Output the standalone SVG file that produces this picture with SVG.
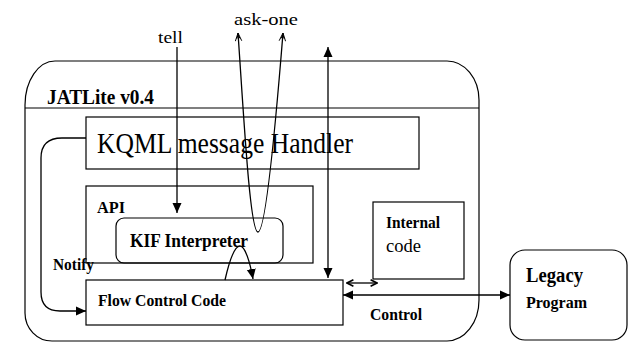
<svg xmlns="http://www.w3.org/2000/svg" width="629" height="343" viewBox="0 0 629 343" font-family="'Liberation Serif', 'Times New Roman', serif">
<style>
.box{fill:none;stroke:#000;stroke-width:1.2}
.ln{fill:none;stroke:#000;stroke-width:1.3}
.b{font-weight:bold}
</style>
<defs>
<marker id="ah" viewBox="0 0 10 10" refX="10" refY="5" markerWidth="10" markerHeight="10" markerUnits="userSpaceOnUse" orient="auto-start-reverse">
<path d="M0,0.5 L10,5 L0,9.5 Z" fill="#000"/>
</marker>
<marker id="oh" viewBox="0 0 10 10" refX="9" refY="5" markerWidth="8" markerHeight="8" markerUnits="userSpaceOnUse" orient="auto-start-reverse">
<path d="M1,1 L9,5 L1,9" fill="none" stroke="#000" stroke-width="2"/>
</marker>
<marker id="th" viewBox="0 0 10 10" refX="10" refY="5" markerWidth="11" markerHeight="8" markerUnits="userSpaceOnUse" orient="auto-start-reverse">
<path d="M0,1 L10,5 L0,9 M3,3 L8,5 L3,7" fill="none" stroke="#000" stroke-width="1.2"/>
</marker>
</defs>
<rect width="629" height="343" fill="#fff"/>

<g id="jatlite">
<path class="box" d="M55,61 L447,61 A32,39 0 0 1 479,100 L479,300 A32,41 0 0 1 447,341 L52,341 A27,28 0 0 1 25,313 L25,105 A30,44 0 0 1 55,61 Z"/>
<line class="box" x1="25" y1="108" x2="479" y2="108"/>
<text class="b" x="47" y="104" font-size="21" textLength="107" lengthAdjust="spacingAndGlyphs">JATLite v0.4</text>
</g>

<g id="kqml">
<rect class="box" x="86" y="117" width="333" height="52" stroke="#333"/>
<text x="97" y="153" font-size="29" textLength="256" lengthAdjust="spacingAndGlyphs">KQML message Handler</text>
</g>

<g id="api">
<rect class="box" x="86" y="186" width="227" height="77"/>
<text class="b" x="97" y="213" font-size="16" textLength="28" lengthAdjust="spacingAndGlyphs">API</text>
</g>

<g id="kif">
<rect class="box" x="116" y="218" width="167" height="45" rx="8" ry="8"/>
<text class="b" x="130" y="247" font-size="19" textLength="118" lengthAdjust="spacingAndGlyphs">KIF Interpreter</text>
</g>

<g id="flow">
<rect class="box" x="86" y="280" width="257" height="45"/>
<text class="b" x="98" y="306" font-size="17" textLength="128" lengthAdjust="spacingAndGlyphs">Flow Control Code</text>
</g>

<g id="internal">
<rect class="box" x="373" y="202" width="91" height="77"/>
<text class="b" x="386" y="228" font-size="16" textLength="54" lengthAdjust="spacingAndGlyphs">Internal</text>
<text x="386" y="252" font-size="18" textLength="35" lengthAdjust="spacingAndGlyphs">code</text>
</g>

<g id="legacy">
<rect class="box" x="510" y="250" width="117" height="90" rx="15" ry="15"/>
<text class="b" x="526" y="282" font-size="20" textLength="57" lengthAdjust="spacingAndGlyphs">Legacy</text>
<text class="b" x="526" y="308" font-size="16" textLength="61" lengthAdjust="spacingAndGlyphs">Program</text>
</g>

<g id="connectors">
<path class="ln" d="M177,47 L177,213" marker-end="url(#ah)"/>
<path class="ln" d="M328,278 L328,47" marker-start="url(#ah)" marker-end="url(#ah)"/>
<path class="ln" d="M238,33 C244,120 250,232 258,232 C266,232 276,120 283,33" marker-start="url(#th)" marker-end="url(#th)"/>
<path class="ln" d="M86,138 L62,138 Q41,138 41,158 L41,292 Q41,311 60,311 L86,311" marker-end="url(#ah)"/>
<path class="ln" d="M225,280 C230,258 235,246 240,246 C245,246 250,262 253,279" marker-end="url(#ah)"/>
<path class="ln" d="M347,283 L377,283" marker-start="url(#oh)" marker-end="url(#oh)"/>
<path class="ln" d="M343,295 L510,295" marker-start="url(#ah)" marker-end="url(#ah)"/>
</g>

<g id="labels">
<text x="158" y="43" font-size="17" textLength="25" lengthAdjust="spacingAndGlyphs">tell</text>
<text x="234" y="25" font-size="16" textLength="64" lengthAdjust="spacingAndGlyphs">ask-one</text>
<text class="b" x="53" y="270" font-size="16" textLength="41" lengthAdjust="spacingAndGlyphs">Notify</text>
<text class="b" x="370" y="320" font-size="16" textLength="52" lengthAdjust="spacingAndGlyphs">Control</text>
</g>
</svg>
